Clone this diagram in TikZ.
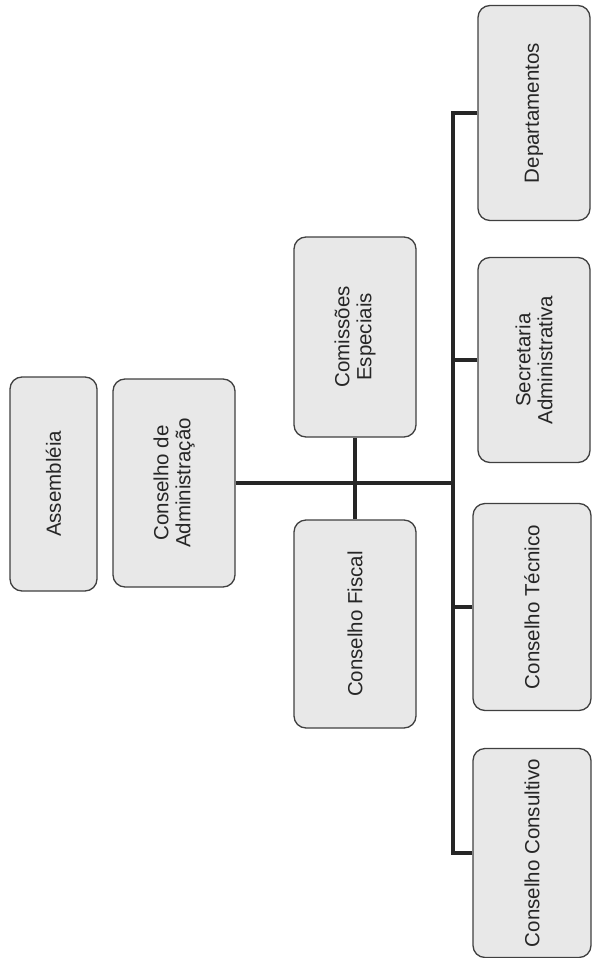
\documentclass[tikz,border=0pt]{standalone}
\usepackage{fontspec}
\setmainfont{Liberation Sans}
\usepackage{tikz}
\usetikzlibrary{positioning}

\begin{document}
\begin{tikzpicture}[x=1pt,y=-1pt,
            orgbox/.style={draw=black!75,line width=1.3pt,fill=black!9,rounded corners=12pt,
                           rotate=90,align=center,inner sep=2pt,text=black!85,
                           font=\fontsize{20.5}{22}\selectfont},
            conn/.style={draw,line width=3.4pt,black!85}
          ]
          \useasboundingbox (0,0) rectangle (593,958);

          % rotated boxes: north = left side, south = right side, east = top, west = bottom
          \node[orgbox,minimum width=214pt,minimum height=87pt] (asm) at (53.5,484) {Assembléia};
          \node[orgbox,minimum width=208pt,minimum height=122pt] (ca) at (174,483) {Conselho de\\Administração};

          \node[orgbox,minimum width=200pt,minimum height=122pt] (ce) at (355,337) {Comissões\\Especiais};
          \node[orgbox,minimum width=208pt,minimum height=122pt] (cf) at (355,624) {Conselho Fiscal};

          \node[orgbox,minimum width=215pt,minimum height=112pt] (dep) at (534,113) {Departamentos};
          \node[orgbox,minimum width=205pt,minimum height=112pt] (sec) at (534,360) {Secretaria\\Administrativa};
          \node[orgbox,minimum width=207pt,minimum height=118pt] (tec) at (532,607) {Conselho Técnico};
          \node[orgbox,minimum width=209pt,minimum height=118pt] (cco) at (532,853) {Conselho Consultivo};

          %junction of the bus
          \coordinate (j) at (453,483);

          \path[conn]
          (ca.south) -- (j)
          (ce.west) -- (ce.west |- j)
          (cf.east) -- (cf.east |- j)
          (dep.north) -| (j)
          (cco.north) -| (j)
          (sec.north) -- (sec.north -| j)
          (tec.north) -- (tec.north -| j)
          ;

      \end{tikzpicture}
\end{document}
